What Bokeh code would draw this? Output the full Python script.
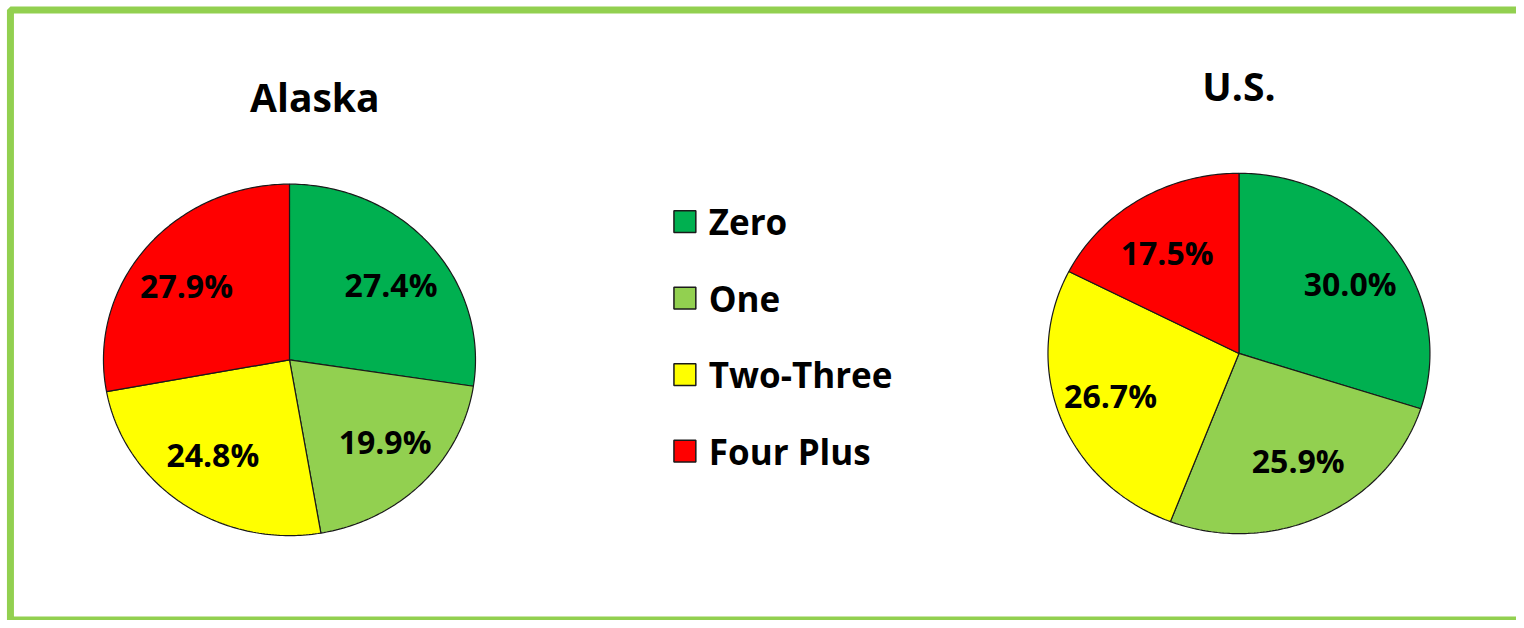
import numpy as np
from bokeh.plotting import figure
from bokeh.models import Range1d, ColumnDataSource
from bokeh.core.properties import value
from bokeh.embed import file_html
from bokeh.resources import INLINE

# ---- data ----
categories = ["Zero", "One", "Two-Three", "Four Plus"]
colors = ["#00B050", "#92D050", "#FFFF00", "#FF0000"]
alaska_values = [27.4, 19.9, 24.8, 27.9]
us_values = [30.0, 25.9, 26.7, 17.5]
alaska_labels = ["27.4%", "19.9%", "24.8%", "27.9%"]
us_labels = ["30.0%", "25.9%", "26.7%", "17.5%"]

FONT = value("Open Sans")
W, H = 1516, 620

p = figure(width=W, height=H, output_backend="svg", toolbar_location=None,
           x_range=Range1d(0, 1524), y_range=Range1d(628, 0),
           min_border=0, outline_line_color=None, background_fill_color="white",
           border_fill_color="white")
p.axis.visible = False
p.grid.visible = False


def pie(values, labels, cx, cy, rx, ry):
    total = float(sum(values))
    xs, ys, lx, ly = [], [], [], []
    start = 0.0
    for v in values:
        a0 = start / total * 2 * np.pi
        a1 = (start + v) / total * 2 * np.pi
        n = max(3, int((a1 - a0) / (2 * np.pi) * 400))
        t = np.linspace(a0, a1, n)
        xs.append([cx] + list(cx + rx * np.sin(t)))
        ys.append([cy] + list(cy - ry * np.cos(t)))
        am = (a0 + a1) / 2
        lx.append(cx + 0.72 * rx * np.sin(am))
        ly.append(cy - 0.66 * ry * np.cos(am))
        start += v
    src = ColumnDataSource(dict(xs=xs, ys=ys, color=colors, cat=categories))
    p.patches("xs", "ys", source=src, fill_color="color", line_color="#1a1a1a",
              line_width=1.2)
    lsrc = ColumnDataSource(dict(x=lx, y=ly, text=labels))
    p.text("x", "y", text="text", source=lsrc, text_font=FONT,
           text_font_style="bold", text_font_size="32px", text_color="black",
           text_align="center", text_baseline="middle")


pie(alaska_values, alaska_labels, 290.5, 364, 187, 178)
pie(us_values, us_labels, 1245, 357.5, 192, 182.5)

# titles
p.text(x=[316], y=[97], text=["Alaska"], text_font=FONT, text_font_style="bold",
       text_font_size="39px", text_align="center", text_baseline="middle",
       text_color="black")
p.text(x=[1245], y=[86], text=["U.S."], text_font=FONT, text_font_style="bold",
       text_font_size="39px", text_align="center", text_baseline="middle",
       text_color="black")

# legend
leg_y = [224 + 77.5 * i for i in range(len(categories))]
leg_src = ColumnDataSource(dict(x=[688] * 4, y=leg_y, color=colors,
                                tx=[712] * 4, text=categories))
p.rect("x", "y", width=22, height=22, source=leg_src, fill_color="color",
       line_color="#1a1a1a", line_width=1.5)
p.text("tx", "y", text="text", source=leg_src, text_font=FONT,
       text_font_style="bold", text_font_size="35px", text_align="left",
       text_baseline="middle", text_color="black")

# green frame
p.quad(left=[10], right=[1540], top=[9.5], bottom=[627.5], fill_color=None,
       line_color="#92D050", line_width=7)

open("out.html", "w").write(file_html(p, INLINE))
